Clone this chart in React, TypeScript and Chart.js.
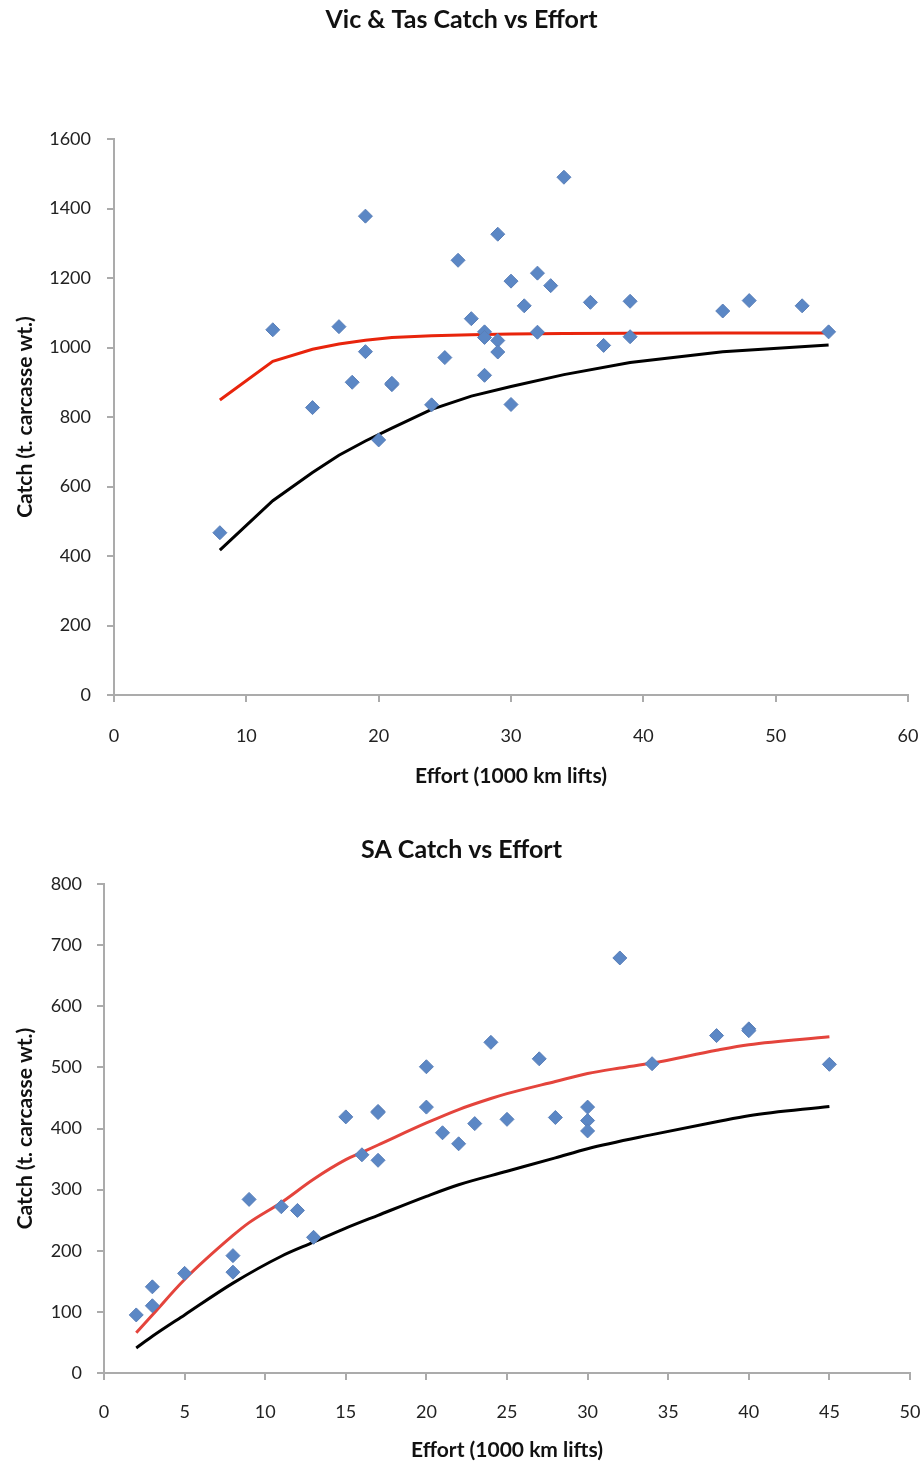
import React, { useEffect, useRef } from "react";
import { Chart, registerables } from "chart.js";
Chart.register(...registerables);

// ---------- Vic & Tas ----------
const vtEffort = [8, 12, 15, 17, 18, 19, 19, 20, 21, 21, 24, 25, 26, 27, 28, 28, 28, 29, 29, 29, 30, 30, 31, 32, 32, 33, 34, 36, 37, 39, 39, 46, 48, 52, 54];
const vtCatch = [467, 1051, 827, 1060, 900, 1378, 988, 734, 893, 897, 835, 971, 1251, 1083, 1045, 1029, 920, 1326, 1020, 987, 1191, 836, 1120, 1214, 1044, 1178, 1490, 1130, 1006, 1133, 1031, 1105, 1135, 1120, 1045];
const vtUpperEffort = [8, 12, 15, 17, 19, 21, 24, 27, 30, 34, 39, 46, 54];
const vtUpperCatch = [849, 960, 995, 1010, 1021, 1029, 1034, 1037, 1039, 1040, 1041, 1042, 1042];
const vtLowerEffort = [8, 12, 15, 17, 19, 21, 24, 27, 30, 34, 39, 46, 54];
const vtLowerCatch = [417, 559, 640, 690, 731, 768, 822, 860, 888, 922, 957, 988, 1007];

// ---------- SA ----------
const saEffort = [2, 3, 3, 5, 8, 8, 9, 11, 12, 13, 15, 16, 17, 17, 17, 20, 20, 21, 22, 23, 24, 25, 27, 28, 30, 30, 30, 32, 34, 38, 40, 40, 45];
const saCatch = [95, 141, 110, 163, 192, 165, 284, 272, 266, 222, 419, 357, 348, 428, 426, 501, 435, 393, 375, 408, 541, 415, 514, 418, 435, 413, 396, 679, 506, 552, 563, 560, 505];
const saUpperEffort = [2, 3, 5, 8, 9, 11, 13, 15, 16, 17, 20, 22, 24, 25, 28, 30, 32, 34, 38, 40, 45];
const saUpperCatch = [66, 95, 153, 225, 246, 279, 317, 349, 361, 373, 409, 431, 449, 457, 477, 490, 499, 507, 528, 537, 550];
const saLowerEffort = [2, 3, 5, 8, 11, 13, 15, 17, 20, 22, 25, 28, 30, 34, 38, 40, 45];
const saLowerCatch = [41, 60, 95, 147, 191, 214, 237, 258, 289, 308, 330, 352, 367, 390, 411, 421, 436];

const xTitle = "Effort (1000 km lifts)";
const yTitle = "Catch (t. carcasse wt.)";

const FONT = "Lato, 'Open Sans', sans-serif";
const AXIS = "#ababab";
const MARK = "#5b87c5";

function pts(xs: number[], ys: number[]) {
  return xs.map((x, i) => ({ x, y: ys[i] }));
}

type Cfg = {
  title: string;
  width: number;
  height: number;
  titlePadTop: number;
  titlePadBottom: number;
  padRight: number;
  padBottom: number;
  yAxisWidth: number;
  xAxisHeight: number;
  xMax: number;
  xStep: number;
  yMax: number;
  yStep: number;
  xTickPad: number;
  yTickPad: number;
  yTitlePad: number;
  points: { x: number; y: number }[];
  upper: { x: number; y: number }[];
  lower: { x: number; y: number }[];
  red: string;
  smooth: boolean;
};

function buildConfig(c: Cfg): any {
  const lineExtra = c.smooth ? { cubicInterpolationMode: "monotone" } : { tension: 0 };
  return {
    type: "scatter",
    data: {
      datasets: [
        {
          label: "obs",
          data: c.points,
          pointStyle: "rectRot",
          pointRadius: 7,
          backgroundColor: MARK,
          borderColor: "#5a7fb8",
          borderWidth: 1,
          showLine: false,
        },
        {
          label: "upper",
          data: c.upper,
          showLine: true,
          pointRadius: 0,
          borderColor: c.red,
          borderWidth: 3,
          fill: false,
          ...lineExtra,
        },
        {
          label: "lower",
          data: c.lower,
          showLine: true,
          pointRadius: 0,
          borderColor: "#000000",
          borderWidth: 3,
          fill: false,
          ...lineExtra,
        },
      ],
    },
    options: {
      responsive: false,
      animation: false,
      devicePixelRatio: 1,
      layout: { padding: { left: 0, right: 0, top: 0, bottom: c.padBottom } },
      plugins: {
        legend: { display: false },
        tooltip: { enabled: false },
        title: {
          display: true,
          text: c.title,
          color: "#111111",
          font: { family: FONT, size: 25, weight: "bold" },
          padding: { top: c.titlePadTop, bottom: c.titlePadBottom },
        },
      },
      scales: {
        x: {
          type: "linear",
          min: 0,
          max: c.xMax,
          ticks: {
            stepSize: c.xStep,
            padding: c.xTickPad,
            color: "#222222",
            font: { family: FONT, size: 18 },
            maxRotation: 0,
            autoSkip: false,
            callback: (v: any) => String(v),
          },
          grid: { drawOnChartArea: false, drawTicks: true, tickLength: 7, color: AXIS, lineWidth: 2 },
          border: { display: true, color: AXIS, width: 2 },
          title: {
            display: true,
            text: xTitle,
            color: "#111111",
            font: { family: FONT, size: 21, weight: "bold", lineHeight: 1 },
            padding: { top: 0, bottom: 0 },
          },
          afterFit: (s: any) => {
            s.height = c.xAxisHeight;
            s.paddingRight = c.padRight;
            s.paddingLeft = 0;
          },
        },
        y: {
          type: "linear",
          min: 0,
          max: c.yMax,
          ticks: {
            stepSize: c.yStep,
            padding: c.yTickPad,
            color: "#222222",
            font: { family: FONT, size: 18 },
            autoSkip: false,
            callback: (v: any) => String(v),
          },
          grid: { drawOnChartArea: false, drawTicks: true, tickLength: 7, color: AXIS, lineWidth: 2 },
          border: { display: true, color: AXIS, width: 2 },
          title: {
            display: true,
            text: yTitle,
            color: "#111111",
            font: { family: FONT, size: 21, weight: "bold", lineHeight: 1 },
            padding: { top: c.yTitlePad, bottom: 0 },
          },
          afterFit: (s: any) => {
            s.width = c.yAxisWidth;
          },
        },
      },
    },
  };
}

function ChartBox({ cfg, top }: { cfg: Cfg; top: number }) {
  const ref = useRef<HTMLCanvasElement | null>(null);
  useEffect(() => {
    if (!ref.current) return;
    const chart = new Chart(ref.current, buildConfig(cfg));
    return () => chart.destroy();
  }, []);
  return (
    <div style={{ position: "absolute", left: 0, top, width: cfg.width, height: cfg.height }}>
      <canvas ref={ref} width={cfg.width} height={cfg.height} style={{ display: "block" }} />
    </div>
  );
}

const topCfg: Cfg = {
  title: "Vic & Tas Catch vs Effort",
  width: 923,
  height: 790,
  titlePadTop: 5,
  titlePadBottom: 104,
  padRight: 15,
  padBottom: 3,
  yAxisWidth: 114,
  xAxisHeight: 92,
  xMax: 60,
  xStep: 10,
  yMax: 1600,
  yStep: 200,
  xTickPad: 23,
  yTickPad: 16,
  yTitlePad: 15,
  points: pts(vtEffort, vtCatch),
  upper: pts(vtUpperEffort, vtUpperCatch),
  lower: pts(vtLowerEffort, vtLowerCatch),
  red: "#e8240c",
  smooth: false,
};

const botCfg: Cfg = {
  title: "SA Catch vs Effort",
  width: 923,
  height: 641,
  titlePadTop: 15,
  titlePadBottom: 19,
  padRight: 13,
  padBottom: 0,
  yAxisWidth: 104,
  xAxisHeight: 88,
  xMax: 50,
  xStep: 5,
  yMax: 800,
  yStep: 100,
  xTickPad: 21,
  yTickPad: 15,
  yTitlePad: 15,
  points: pts(saEffort, saCatch),
  upper: pts(saUpperEffort, saUpperCatch),
  lower: pts(saLowerEffort, saLowerCatch),
  red: "#e4443c",
  smooth: true,
};

export default function App() {
  return (
    <div style={{ position: "absolute", left: 0, top: 0, width: 923, height: 1461 }}>
      <ChartBox cfg={topCfg} top={0} />
      <ChartBox cfg={botCfg} top={820} />
    </div>
  );
}
